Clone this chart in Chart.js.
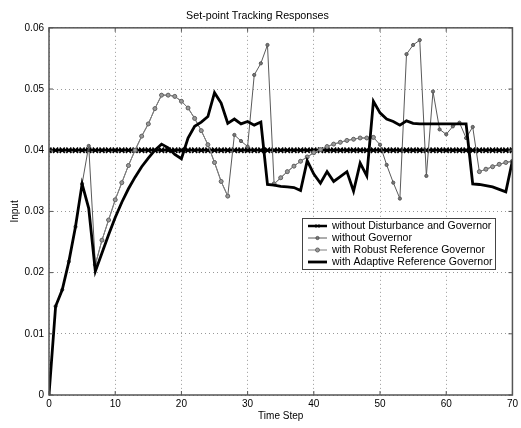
<!DOCTYPE html>
<html>
<head>
<meta charset="utf-8">
<title>Set-point Tracking Responses</title>
<script src="https://cdn.jsdelivr.net/npm/chart.js@4.4.1/dist/chart.umd.min.js"></script>
<style>
  body { margin: 0; background: #fff; }
  #chart { display: block; }
</style>
</head>
<body>
<canvas id="chart" width="521" height="428"></canvas>
<script>
'use strict';

// GLOBALS / DATA (one value per time step, 0..70)
let seriesNames = [
  'without Disturbance and Governor',
  'without Governor',
  'with Robust Reference Governor',
  'with Adaptive Reference Governor'
];

let noDisturbance = [
  0.04, 0.04, 0.04, 0.04, 0.04, 0.04, 0.04, 0.04, 0.04, 0.04,
  0.04, 0.04, 0.04, 0.04, 0.04, 0.04, 0.04, 0.04, 0.04, 0.04,
  0.04, 0.04, 0.04, 0.04, 0.04, 0.04, 0.04, 0.04, 0.04, 0.04,
  0.04, 0.04, 0.04, 0.04, 0.04, 0.04, 0.04, 0.04, 0.04, 0.04,
  0.04, 0.04, 0.04, 0.04, 0.04, 0.04, 0.04, 0.04, 0.04, 0.04,
  0.04, 0.04, 0.04, 0.04, 0.04, 0.04, 0.04, 0.04, 0.04, 0.04,
  0.04, 0.04, 0.04, 0.04, 0.04, 0.04, 0.04, 0.04, 0.04, 0.04,
  0.04
];

let noGovernor = [
  0, 0.0145, 0.0172, 0.0218, 0.0275, 0.0345, 0.0407, 0.0213, 0.0253, 0.0286,
  0.0319, 0.0347, 0.0375, 0.0400, 0.0423, 0.0443, 0.0468, 0.0490, 0.0490, 0.0488,
  0.0480, 0.0469, 0.0452, 0.0432, 0.0409, 0.0380, 0.0349, 0.0325, 0.0425, 0.0415,
  0.0406, 0.0523, 0.0542, 0.0572, 0.0345, 0.0355, 0.0365, 0.0374, 0.0382, 0.0389,
  0.0396, 0.0401, 0.0406, 0.0410, 0.0413, 0.0416, 0.0418, 0.0420, 0.0420, 0.0421,
  0.0409, 0.0376, 0.0347, 0.0321, 0.0557, 0.0572, 0.0580, 0.0358, 0.0496, 0.0434,
  0.0426, 0.0439, 0.0445, 0.0420, 0.0438, 0.0365, 0.0369, 0.0373, 0.0377, 0.0380,
  0.0382
];

// robust governor only where it leaves the uncontrolled path
let robustGovernor = [
  null, null, null, null, null, null, null, 0.0213, 0.0253, 0.0286,
  0.0319, 0.0347, 0.0375, 0.0400, 0.0423, 0.0443, 0.0468, 0.0490, 0.0490, 0.0488,
  0.0480, 0.0469, 0.0452, 0.0432, 0.0409, 0.0380, 0.0349, 0.0325, null, null,
  null, null, null, null, 0.0345, 0.0355, 0.0365, 0.0374, 0.0382, 0.0389,
  0.0396, 0.0401, 0.0406, 0.0410, 0.0413, 0.0416, 0.0418, 0.0420, 0.0420, 0.0421,
  null, null, null, null, null, null, null, null, null, null,
  null, null, null, null, null, 0.0365, 0.0369, 0.0373, 0.0377, 0.0380,
  0.0382
];

let adaptiveGovernor = [
  0, 0.0145, 0.0172, 0.0218, 0.0275, 0.0345, 0.0305, 0.0202, 0.0232, 0.0262,
  0.0290, 0.0315, 0.0337, 0.0356, 0.0373, 0.0387, 0.0400, 0.0410, 0.0404, 0.0393,
  0.0386, 0.0420, 0.0439, 0.0446, 0.0455, 0.0494, 0.0477, 0.0444, 0.0451, 0.0443,
  0.0447, 0.0441, 0.0446, 0.0344, 0.0343, 0.0341, 0.0340, 0.0339, 0.0334, 0.0383,
  0.0361, 0.0346, 0.0365, 0.0349, 0.0357, 0.0365, 0.0333, 0.0379, 0.0358, 0.0480,
  0.0461, 0.0451, 0.0447, 0.0441, 0.0448, 0.0444, 0.0443, 0.0443, 0.0443, 0.0443,
  0.0443, 0.0443, 0.0443, 0.0443, 0.0345, 0.0344, 0.0342, 0.0340, 0.0336, 0.0332,
  0.0383
];

let xTicks = [0, 10, 20, 30, 40, 50, 60, 70];
let yTicks = [0, 0.01, 0.02, 0.03, 0.04, 0.05, 0.06];

const FONT = 'Liberation Sans, Arial, Helvetica, sans-serif';

// index of the array is the time step
function toPoints(values) {
  return values.map((v, i) => ({ x: i, y: v }));
}

// matlab-ish axes box with inward tick marks
const boxPlugin = {
  id: 'axesBox',
  afterDatasetsDraw(chart) {
    let { ctx, chartArea: a, scales } = chart;
    ctx.save();
    ctx.strokeStyle = '#555';
    ctx.lineWidth = 1.5;
    ctx.strokeRect(a.left, a.top, a.right - a.left, a.bottom - a.top);
    ctx.lineWidth = 1;
    ctx.beginPath();
    scales.x.ticks.forEach(t => {
      let px = scales.x.getPixelForValue(t.value);
      ctx.moveTo(px, a.bottom); ctx.lineTo(px, a.bottom - 4);
      ctx.moveTo(px, a.top); ctx.lineTo(px, a.top + 4);
    });
    scales.y.ticks.forEach(t => {
      let py = scales.y.getPixelForValue(t.value);
      ctx.moveTo(a.left, py); ctx.lineTo(a.left + 4, py);
      ctx.moveTo(a.right, py); ctx.lineTo(a.right - 4, py);
    });
    ctx.stroke();
    ctx.restore();
  }
};

// boxed legend inside the plot, like the one matlab puts there
const legendPlugin = {
  id: 'boxLegend',
  afterDraw(chart) {
    let ctx = chart.ctx;
    let left = 302, top = 218, width = 193, rowH = 12;
    let sets = chart.data.datasets;
    ctx.save();
    ctx.fillStyle = '#fff';
    ctx.fillRect(left, top, width, rowH * sets.length + 3);
    ctx.strokeStyle = '#444';
    ctx.lineWidth = 1;
    ctx.strokeRect(left + 0.5, top + 0.5, width, rowH * sets.length + 3);
    ctx.font = '10.5px ' + FONT;
    ctx.textBaseline = 'middle';
    sets.forEach((ds, i) => {
      let y = top + 8 + i * rowH;
      ctx.strokeStyle = ds.borderColor;
      ctx.lineWidth = Math.min(ds.borderWidth, 2.8);
      ctx.setLineDash([]);
      ctx.beginPath();
      ctx.moveTo(left + 6, y);
      ctx.lineTo(left + 25, y);
      ctx.stroke();
      if (ds.pointRadius > 0) {
        ctx.fillStyle = ds.pointBackgroundColor;
        ctx.strokeStyle = ds.pointBorderColor;
        ctx.lineWidth = 1;
        Chart.helpers.drawPoint(ctx, {
          pointStyle: ds.pointStyle,
          radius: Math.min(ds.pointRadius, 2.5),
          borderWidth: 1
        }, left + 15.5, y);
      }
      ctx.fillStyle = '#000';
      ctx.fillText(seriesNames[i], left + 30, y + 0.5);
    });
    ctx.restore();
  }
};

let canvasChart = document.getElementById('chart');

const data = {
  datasets: [{
    label: seriesNames[0],
    data: toPoints(noDisturbance),
    borderColor: '#000',
    borderWidth: 2.5,
    pointStyle: 'crossRot',
    pointRadius: 3.6,
    pointBorderWidth: 1.8,
    pointBorderColor: '#000',
    pointBackgroundColor: '#000',
    order: 3
  },
  {
    label: seriesNames[1],
    data: toPoints(noGovernor),
    borderColor: '#5a5a5a',
    borderWidth: 1,
    pointStyle: 'circle',
    pointRadius: 1.6,
    pointBorderWidth: 1,
    pointBorderColor: '#555',
    pointBackgroundColor: '#777',
    order: 2
  },
  {
    label: seriesNames[2],
    data: toPoints(robustGovernor),
    borderColor: '#808080',
    borderWidth: 1,
    pointStyle: 'circle',
    pointRadius: 2,
    pointBorderWidth: 1,
    pointBorderColor: '#666',
    pointBackgroundColor: '#999',
    spanGaps: false,
    order: 1
  },
  {
    label: seriesNames[3],
    data: toPoints(adaptiveGovernor),
    borderColor: '#000',
    borderWidth: 2.8,
    pointRadius: 0,
    order: 0
  }]
};

const config = {
  type: 'line',
  data: data,
  plugins: [boxPlugin, legendPlugin],
  options: {
    responsive: false,
    devicePixelRatio: 1,
    animation: false,
    events: [],
    layout: { padding: { top: 2, right: 6, bottom: 0, left: 0 } },
    elements: { line: { tension: 0 } },
    plugins: {
      legend: { display: false },
      tooltip: { enabled: false },
      title: {
        display: true,
        text: 'Set-point Tracking Responses',
        color: '#000',
        font: { family: FONT, size: 10.7, weight: 'normal' },
        padding: { top: 8, bottom: 5 }
      }
    },
    scales: {
      x: {
        type: 'linear',
        min: 0,
        max: 70,
        afterBuildTicks: s => { s.ticks = xTicks.map(v => ({ value: v })); },
        afterFit: s => { s.height = 33; },
        ticks: {
          color: '#000',
          font: { family: FONT, size: 10 },
          padding: 3,
          maxRotation: 0
        },
        grid: { color: '#999', drawTicks: false, lineWidth: 1 },
        border: { display: false, dash: [1, 3] },
        title: {
          display: true,
          text: 'Time Step',
          color: '#000',
          font: { family: FONT, size: 10 },
          padding: { top: 0, bottom: 6 }
        }
      },
      y: {
        min: 0,
        max: 0.06,
        afterBuildTicks: s => { s.ticks = yTicks.map(v => ({ value: v })); },
        afterFit: s => { s.width = 49; },
        ticks: {
          color: '#000',
          font: { family: FONT, size: 10 },
          padding: 5,
          callback: v => (v === 0 ? '0' : v.toFixed(2))
        },
        grid: { color: '#999', drawTicks: false, lineWidth: 1 },
        border: { display: false, dash: [1, 3] },
        title: {
          display: true,
          text: 'Input',
          color: '#000',
          font: { family: FONT, size: 10 },
          padding: { top: 9, bottom: 0 }
        }
      }
    }
  }
};

const myChart = new Chart(canvasChart, config);
</script>
</body>
</html>
